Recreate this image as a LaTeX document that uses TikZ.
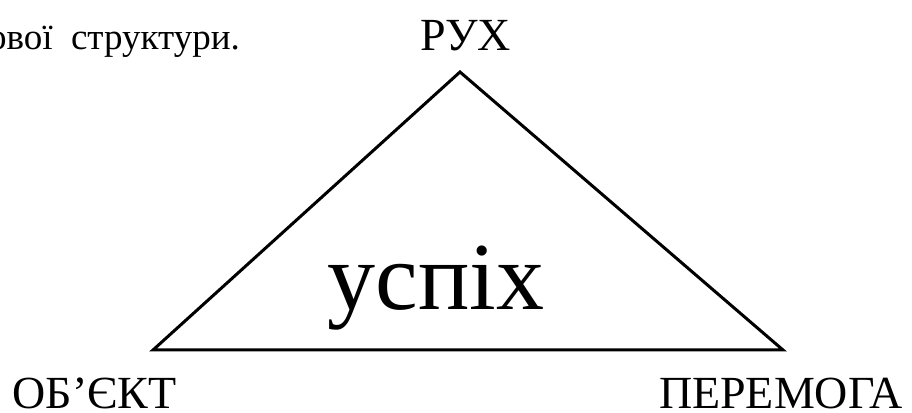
\documentclass[tikz,border=0pt]{standalone}
\usepackage{fontspec}
\setmainfont{Liberation Serif}
\usetikzlibrary{positioning}

\begin{document}
\begin{tikzpicture}[x=1pt, y=1pt,
    % 1. Etiquetas de los vértices
    vertex/.style={font=\fontsize{46}{50}\selectfont, inner sep=0pt},
    % 2. Palabra central
    centre/.style={font=\fontsize{96}{104}\selectfont, inner sep=0pt},
    % 3. Resto del texto de la página
    caption/.style={font=\fontsize{37}{40}\selectfont, inner sep=0pt},
    % 4. Lados del triángulo
    side/.style={line width=3pt, line join=miter}
  ]
  \useasboundingbox (0,0) rectangle (912,412);

  % === TEXTO SUPERIOR ===
  \node[caption, anchor=base east] (line) at (240,362) {ової\ \ структури.};

  % === TRIÁNGULO ===
  \coordinate (top) at (460,340);
  \coordinate (left) at (153,62);
  \coordinate (right) at (783,62);
  \draw[side] (top) -- (left) -- (right) -- cycle;

  % === ETIQUETAS ===
  \node[vertex, anchor=base] (rukh) at (466,361) {РУХ};
  \node[vertex, anchor=base east] (obiekt) at (177,4) {ОБ’ЄКТ};
  \node[vertex, anchor=base] (peremoha) at (781,4) {ПЕРЕМОГА};

  % Palabra central
  \node[centre, anchor=base] (uspikh) at (436,102) {успіх};

\end{tikzpicture}
\end{document}
